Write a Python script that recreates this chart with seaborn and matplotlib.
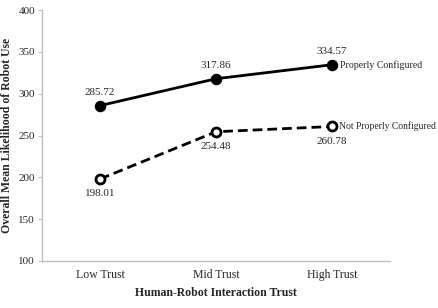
import pandas as pd
import seaborn as sns
import matplotlib.pyplot as plt

trust = ['Low Trust', 'Mid Trust', 'High Trust']
proper = [285.72, 317.86, 334.57]
not_proper = [198.01, 254.48, 260.78]

df = pd.DataFrame({
    'trust': trust * 2,
    'value': proper + not_proper,
    'group': ['Properly Configured'] * 3 + ['Not Properly Configured'] * 3,
})

sns.set_style('white')
plt.rcParams['font.family'] = ['Liberation Serif', 'DejaVu Serif']

fig = plt.figure(figsize=(4.39, 3.08), dpi=100)
ax = fig.add_axes([42 / 439, 47 / 308, 348 / 439, 251 / 308])

pos = {t: i for i, t in enumerate(trust)}
df['x'] = df['trust'].map(pos)

# solid line, filled markers
sns.lineplot(data=df[df['group'] == 'Properly Configured'], x='x', y='value',
             color='black', linewidth=2, marker='o', markersize=7.5,
             markerfacecolor='black', markeredgecolor='black', ax=ax)
# dashed line, open markers
sns.lineplot(data=df[df['group'] == 'Not Properly Configured'], x='x', y='value',
             color='black', linewidth=2, linestyle=(0, (3.5, 1.8)), marker='o', markersize=6.5,
             markerfacecolor='white', markeredgecolor='black', markeredgewidth=2, ax=ax)

# data labels
for i, v in enumerate(proper):
    ax.annotate(f'{v:.2f}', (i, v), xytext=(0, 6), textcoords='offset points',
                ha='center', va='bottom', fontsize=8)
for i, v in enumerate(not_proper):
    ax.annotate(f'{v:.2f}', (i, v), xytext=(0, -7.5), textcoords='offset points',
                ha='center', va='top', fontsize=8)

# series names
ax.annotate('Properly Configured', (2, proper[-1]), xytext=(6, 0), textcoords='offset points',
            ha='left', va='center', fontsize=7.1, annotation_clip=False)
ax.annotate('Not Properly Configured', (2, not_proper[-1]), xytext=(5, 0), textcoords='offset points',
            ha='left', va='center', fontsize=6.9, annotation_clip=False)

ax.set_xlim(-0.5, 2.5)
ax.set_ylim(100, 400)
ax.set_yticks(range(100, 401, 50))
ax.set_xticks(range(3))
ax.set_xticklabels(trust, fontsize=8.5)
ax.set_xticks([-0.5, 0.5, 1.5, 2.5], minor=True)
ax.tick_params(axis='x', which='major', length=0, pad=6)
ax.tick_params(axis='x', which='minor', length=3, color='#bfbfbf', direction='out')
ax.tick_params(axis='y', length=3, color='#bfbfbf', direction='out', labelsize=8, pad=2, left=True)

ax.set_xlabel('Human-Robot Interaction Trust', fontsize=8.5, fontweight='bold', labelpad=4)
ax.set_ylabel('Overall Mean Likelihood of Robot Use', fontsize=8.5, fontweight='bold', labelpad=4)

sns.despine(ax=ax)
for s in ['left', 'bottom']:
    ax.spines[s].set_color('#bfbfbf')
    ax.spines[s].set_linewidth(1)

fig.savefig('out.png', dpi=100)
